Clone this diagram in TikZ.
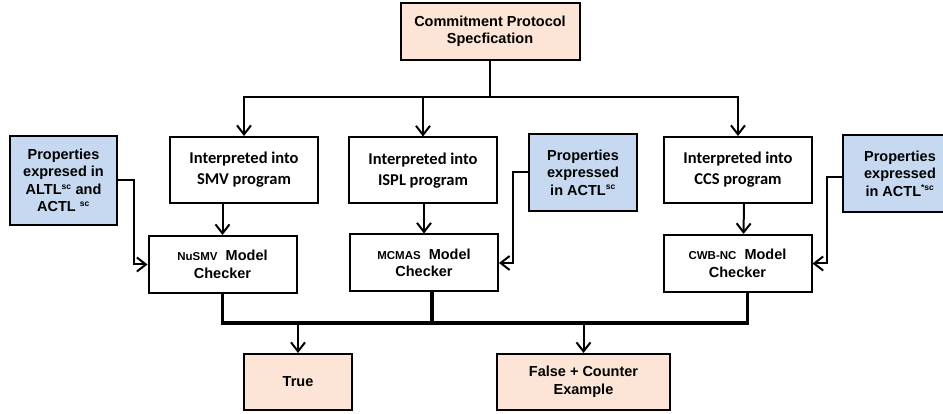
\documentclass[tikz,border=0pt]{standalone}
\usepackage{fontspec}
\setmainfont{Liberation Sans}
\newfontfamily\calibri{Carlito}
\usetikzlibrary{arrows.meta}
\definecolor{peach}{RGB}{252,229,214}
\definecolor{lightblue}{RGB}{198,217,240}
\newcommand{\scp}[1]{\textsuperscript{\fontsize{8.5}{8.5}\selectfont #1}}
\newcommand{\tool}[1]{{\fontsize{11.5}{17}\selectfont #1}}
\begin{document}
\begin{tikzpicture}[x=1pt,y=-1pt,line width=2pt,>={Straight Barb[length=9pt,width=14pt]},
  box/.style={draw,line width=2pt,align=center,inner sep=0pt,font=\bfseries\fontsize{14.5}{17.5}\selectfont},
  peachbox/.style={box,fill=peach},
  bluebox/.style={box,fill=lightblue},
  progbox/.style={box,minimum width=148pt,minimum height=66pt,font=\calibri\bfseries\fontsize{16.5}{21}\selectfont},
  checkbox/.style={box,minimum width=148pt,minimum height=57pt},
  merge/.style={line width=3.6pt}]
\useasboundingbox (0,0) rectangle (943,414);
\node[peachbox,minimum width=179pt,minimum height=57pt] (spec) at (490,31.5) {Commitment Protocol\\Specfication};
% programs
\node[progbox] (smv) at (244,170) {Interpreted into\\SMV program};
\node[progbox] (ispl) at (423,170.5) {Interpreted into\\ISPL program};
\node[progbox] (ccs) at (738,170) {Interpreted into\\CCS program};
% properties
\node[bluebox,minimum width=107pt,minimum height=89pt] (altl) at (63.5,180.5) {Properties\\expresed in\\ALTL\scp{sc} and\\ACTL \scp{sc}};
\node[bluebox,minimum width=108pt,minimum height=77pt] (actl) at (583,172.5) {Properties\\expressed\\in ACTL\scp{sc}};
\node[bluebox,minimum width=114pt,minimum height=77pt] (actlstar) at (900,173.5) {Properties\\expressed\\in ACTL\scp{*sc}};
% model checkers
\node[checkbox] (nusmv) at (222.5,264.5) {\tool{NuSMV}\ \ Model\\Checker};
\node[checkbox] (mcmas) at (424,263) {\tool{MCMAS}\ \ Model\\Checker};
\node[checkbox] (cwb) at (737.5,263.5) {\tool{CWB-NC}\ \ Model\\Checker};
% results
\node[peachbox,minimum width=108pt,minimum height=56pt] (true) at (298,382) {True};
\node[peachbox,minimum width=173pt,minimum height=56pt] (false) at (583.5,382) {False + Counter\\Example};

\coordinate (fork) at (490,97);
\draw (spec) -- (fork);
\draw[->] (fork) -| (smv);
\draw[->] (fork) -| (ispl);
\draw[->] (fork) -| (ccs);
\draw[->] (smv.south -| nusmv) -- (nusmv);
\draw[->] (ispl.south -| mcmas) -- (mcmas);
\draw[->] ([xshift=6pt]ccs.south) -- ([xshift=6pt]cwb.north);
\draw[->] (altl.east) -- ++(16,0) |- (nusmv.west);
\draw[->] (actl.west) -- ++(-15,0) |- (mcmas.east);
\draw[->] ([yshift=-3.5pt]actlstar.west) -- ++(-15,0) |- (cwb.east);

\coordinate (join) at (0,323);
\draw[merge] (nusmv.south) -- (nusmv.south |- join) -- ([xshift=10pt]cwb.south |- join) -- ([xshift=10pt]cwb.south);
\draw[merge] ([xshift=8pt]mcmas.south) -- ([xshift=8pt]mcmas.south |- join);
\draw[->] (true |- join) -- (true);
\draw[->] (false |- join) -- (false);
\end{tikzpicture}
\end{document}
